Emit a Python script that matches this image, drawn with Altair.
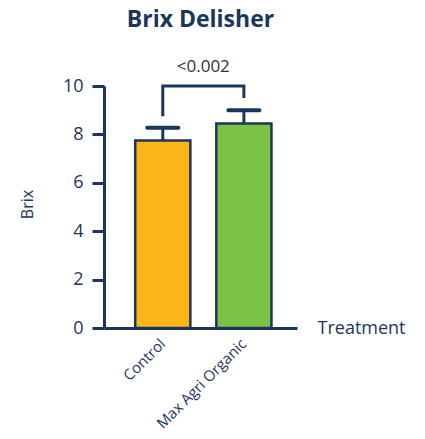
import altair as alt
import pandas as pd

treatments = ["Control", "Max Agri Organic"]
means = [7.75, 8.45]
upper = [8.27, 9.0]
colors = ["#FBB516", "#7BC143"]

bracket_x = ["Control", "Control", "Max Agri Organic", "Max Agri Organic"]
bracket_y = [8.75, 10.0, 10.0, 9.5]
bracket_order = [0, 1, 2, 3]
p_label = "<0.002"
p_label_y = 10.8

NAVY = "#1B365D"
FONT = "Open Sans"

bars_df = pd.DataFrame({"Treatment": treatments, "Brix": means, "upper": upper})
bracket_df = pd.DataFrame({"Treatment": bracket_x, "y": bracket_y, "o": bracket_order})
label_df = pd.DataFrame({"Treatment": [treatments[0]], "y": [p_label_y], "t": [p_label]})

xscale = alt.Scale(domain=treatments, paddingInner=0.32, paddingOuter=0.35, align=0.55)
yscale = alt.Scale(domain=[0, 10])

base = alt.Chart(bars_df)

whisker = base.mark_rule(color=NAVY, strokeWidth=3).encode(
    x=alt.X("Treatment:N", scale=xscale),
    y=alt.Y("Brix:Q", scale=yscale),
    y2="upper:Q",
)
cap = base.mark_tick(color=NAVY, thickness=4, size=35, cornerRadius=2, opacity=1).encode(
    x=alt.X("Treatment:N", scale=xscale),
    y=alt.Y("upper:Q", scale=yscale),
)
bars = base.mark_bar(stroke=NAVY, strokeWidth=2.5).encode(
    x=alt.X(
        "Treatment:N",
        scale=xscale,
        sort=treatments,
        axis=alt.Axis(
            title="Treatment",
            labelAngle=-45,
            labelAlign="right",
            labelBaseline="middle",
            labelPadding=13,
            labelFontSize=15,
            labelColor=NAVY,
            labelFont=FONT,
            ticks=False,
            domainColor=NAVY,
            domainWidth=3,
            titleFont=FONT,
            titleFontSize=18,
            titleFontWeight="normal",
            titleColor=NAVY,
            titleX=213,
            titleY=0,
            titleAlign="left",
            titleBaseline="middle",
            titleAnchor="start",
        ),
    ),
    y=alt.Y(
        "Brix:Q",
        scale=yscale,
        axis=alt.Axis(
            title="Brix",
            values=[0, 2, 4, 6, 8, 10],
            grid=False,
            labelFontSize=18,
            labelColor=NAVY,
            labelFont=FONT,
            labelPadding=9,
            tickSize=12,
            tickWidth=3,
            tickColor=NAVY,
            domainColor=NAVY,
            domainWidth=3,
            titleFont=FONT,
            titleFontSize=16,
            titleFontWeight="normal",
            titleColor=NAVY,
            titleX=-77,
            titleY=118,
            titleAngle=-90,
            titleAlign="center",
            titleBaseline="middle",
        ),
    ),
    color=alt.Color("Treatment:N", scale=alt.Scale(domain=treatments, range=colors), legend=None),
)

bracket = alt.Chart(bracket_df).mark_line(color=NAVY, strokeWidth=3).encode(
    x=alt.X("Treatment:N", scale=xscale),
    y=alt.Y("y:Q", scale=yscale),
    order="o:Q",
)

ptext = alt.Chart(label_df).mark_text(
    font=FONT, fontSize=17, color="#333333", dx=40.5, baseline="middle", align="center"
).encode(
    x=alt.X("Treatment:N", scale=xscale),
    y=alt.Y("y:Q", scale=yscale),
    text="t:N",
)

chart = alt.layer(whisker, cap, bars, bracket, ptext).properties(
    width=193,
    height=242,
    autosize=alt.AutoSizeParams(type="none"),
    padding={"left": 104, "top": 86, "right": 128, "bottom": 111},
    title=alt.Title(
        "Brix Delisher",
        font=FONT,
        fontSize=23,
        fontWeight="bold",
        color=NAVY,
        anchor="middle",
        offset=26,
    ),
).configure(background="white").configure_view(stroke=None, strokeWidth=0)

chart.save("out.html", embed_options={"renderer": "svg", "actions": False})
